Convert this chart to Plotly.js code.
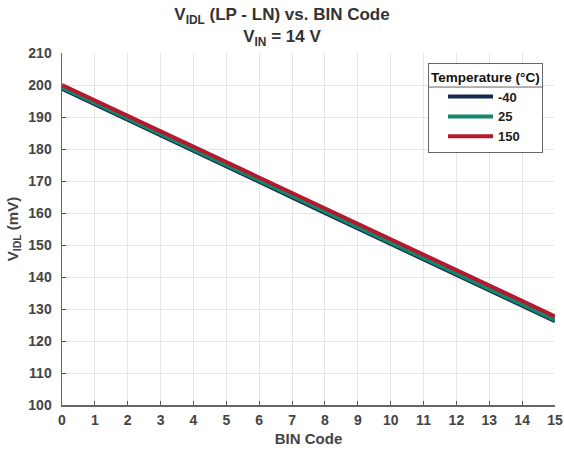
<!DOCTYPE html>
<html><head><meta charset="utf-8">
<script src="https://cdn.plot.ly/plotly-3.0.1.min.js"></script>
<style>html,body{margin:0;padding:0;background:#fff}#c{width:564px;height:452px}</style>
</head><body><div id="c"></div>
<script>
const codes = [0,1,2,3,4,5,6,7,8,9,10,11,12,13,14,15];
const seriesNames = ['-40','25','150'];
const vM40 = [198.8,194.0,189.1,184.3,179.4,174.6,169.7,164.9,160.0,155.2,150.4,145.5,140.7,135.9,131.0,126.2];
const v25  = [199.2,194.4,189.5,184.7,179.8,175.0,170.1,165.3,160.5,155.6,150.8,145.9,141.1,136.3,131.4,126.6];
const v150 = [200.0,195.2,190.4,185.5,180.7,175.9,171.0,166.2,161.3,156.5,151.7,146.9,142.1,137.3,132.5,127.7];
const yTicks = [100,110,120,130,140,150,160,170,180,190,200,210];

const colors = ['#13294b','#12876a','#b3192f'];
const data = [vM40, v25, v150].map((v,i)=>({
  x: codes, y: v, type:'scatter', mode:'lines', name: seriesNames[i],
  line:{color:colors[i], width:4}
}));
const fam = 'Liberation Sans, Arial, sans-serif';
const layout = {
  width:564, height:452,
  margin:{l:62, r:9, t:53, b:47},
  paper_bgcolor:'#fff', plot_bgcolor:'#fff',
  font: {family:fam, color:'#333'},
  showlegend:true,
  title:{text:'V<sub>IDL</sub> (LP - LN) vs. BIN Code<br>V<sub>IN</sub> = 14 V', x:0.5, xanchor:'center', yref:'container', y:0.955, yanchor:'middle',
    font:{size:17, color:'#333', family:fam, weight:'bold'}},
  xaxis:{range:[0,15], tickvals:codes, ticks:'inside', ticklen:4, tickcolor:'#555',
    showline:true, linecolor:'#666', linewidth:1.5, showgrid:true, gridcolor:'#e6e6e6', zeroline:false,
    tickfont:{size:14, color:'#444', family:fam, weight:'bold'}, ticklabelstandoff:2,
    title:{text:'BIN Code', font:{size:15, color:'#444', family:fam, weight:'bold'}, standoff:6}},
  yaxis:{range:[100,210], tickvals:yTicks, ticks:'inside', ticklen:4, tickcolor:'#555',
    showline:true, linecolor:'#666', linewidth:1.5, showgrid:true, gridcolor:'#e6e6e6', zeroline:false,
    tickfont:{size:14, color:'#444', family:fam, weight:'bold'}, ticklabelstandoff:6,
    title:{text:'V<sub>IDL</sub> (mV)', font:{size:15, color:'#444', family:fam, weight:'bold'}, standoff:6}},
  legend:{x:0.9757, xanchor:'right', y:0.9716, yanchor:'top', bgcolor:'#fff', bordercolor:'#666', borderwidth:1,
    font:{size:13, color:'#222', family:fam, weight:'bold'},
    title:{text:'Temperature (°C)', side:'top', font:{size:13.5, color:'#111', family:fam, weight:'bold'}},
    traceorder:'normal', itemwidth:45, tracegroupgap:0, indentation:14}
};
Plotly.newPlot('c', data, layout, {displayModeBar:false, staticPlot:true}).then(gd=>{
  const leg = gd.querySelector('g.legend');
  const bg = leg.querySelector('rect.bg');
  const t = leg.querySelector('.legendtitletext');
  const w = parseFloat(bg.getAttribute('width'));
  const lb = bg.getBoundingClientRect();
  const tb = t.getBoundingClientRect();
  const y = (tb.bottom - lb.top) + 3;
  const ns = 'http://www.w3.org/2000/svg';
  const p = document.createElementNS(ns,'path');
  p.setAttribute('d', `M0,${y}H${w}`);
  p.setAttribute('stroke', '#666'); p.setAttribute('stroke-width', '1');
  const tf = bg.getAttribute('transform');
  if (tf) p.setAttribute('transform', tf);
  bg.parentNode.appendChild(p);
});
</script></body></html>
